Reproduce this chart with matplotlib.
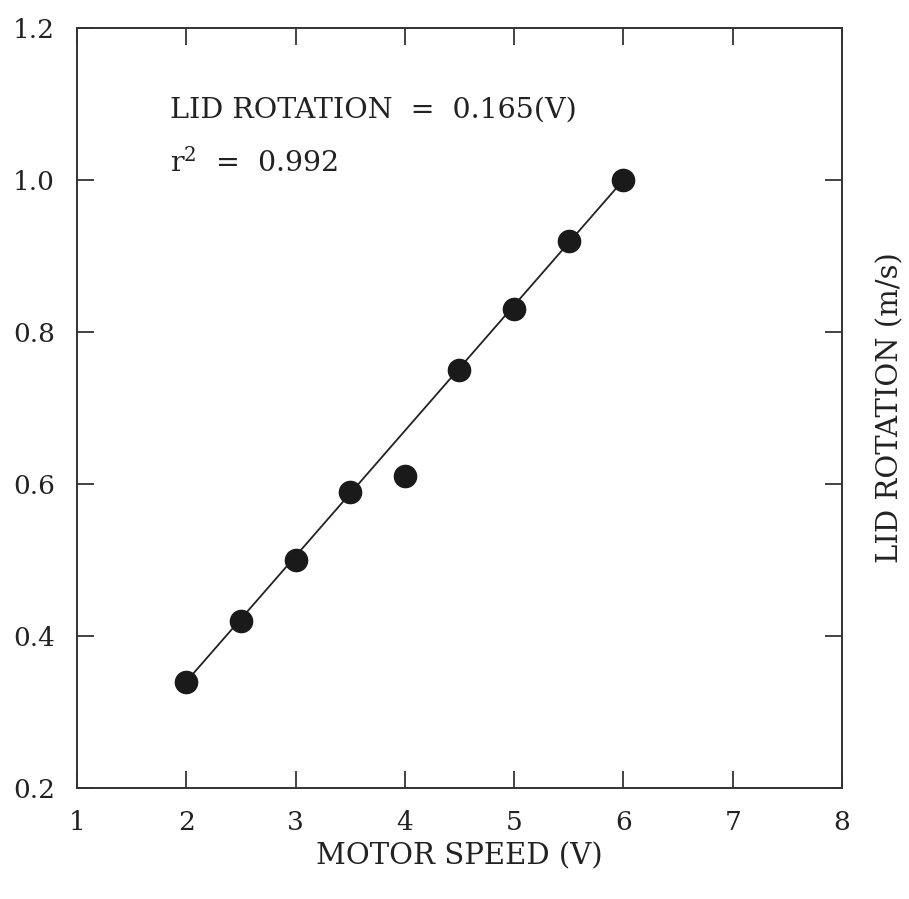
import matplotlib
matplotlib.use('Agg')
import matplotlib.pyplot as plt

# 測定値 (モーター電圧と蓋の回転速度)
motor_speed = [2.0, 2.5, 3.0, 3.5, 4.0, 4.5, 5.0, 5.5, 6.0]
lid_rotation = [0.34, 0.42, 0.50, 0.59, 0.61, 0.75, 0.83, 0.92, 1.00]

# 回帰直線
slope = 0.165
intercept = 0.01
fit_x = [2.0, 6.0]

x_ticks = [1, 2, 3, 4, 5, 6, 7, 8]
y_ticks = [0.2, 0.4, 0.6, 0.8, 1.0, 1.2]

plt.rcParams['font.family'] = ['DejaVu Serif']
plt.rcParams['mathtext.default'] = 'regular'

fig = plt.figure(figsize=(9.09, 8.99), dpi=100)
ax = fig.add_axes([0.0847, 0.1235, 0.8416, 0.8454])

ax.plot(fit_x, [slope * x + intercept for x in fit_x], color='#222222', lw=1.3)
ax.plot(motor_speed, lid_rotation, 'o', color='#1a1a1a', markersize=16)

ax.set_xlim(1, 8)
ax.set_ylim(0.2, 1.2)
ax.set_xticks(x_ticks)
ax.set_yticks(y_ticks)
ax.set_xticklabels([str(t) for t in x_ticks])
ax.set_yticklabels(['%.1f' % t for t in y_ticks])
ax.tick_params(direction='in', length=12, width=1.2, top=True, right=True,
               labelsize=19, colors='#222222')
ax.tick_params(axis='x', pad=16)
ax.tick_params(axis='y', pad=16)
for side in ax.spines.values():
    side.set_linewidth(1.4)
    side.set_color('#333333')

ax.set_xlabel('MOTOR SPEED (V)', fontsize=21, labelpad=5, color='#222222')
ax.yaxis.set_label_position('right')
ax.set_ylabel('LID ROTATION (m/s)', fontsize=21, labelpad=25, color='#222222')

ax.text(1.85, 1.082, 'LID ROTATION  =  0.165(V)', fontsize=20.5, color='#222222')
ax.text(1.85, 1.011, 'r$^{2}$  =  0.992', fontsize=20.5, color='#222222')

fig.savefig('out.png', dpi=100)
